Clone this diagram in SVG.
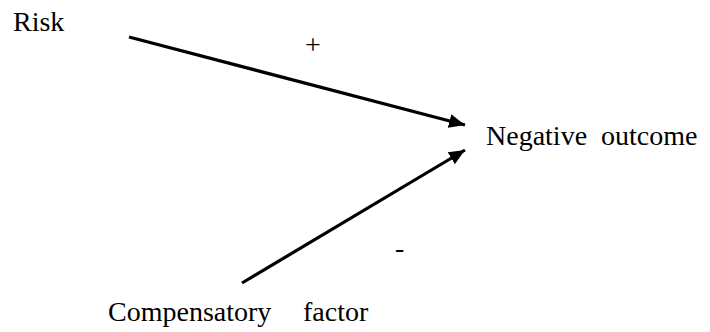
<svg xmlns="http://www.w3.org/2000/svg" width="710" height="332" viewBox="0 0 710 332">
<style>
text{font-family:"Liberation Serif","Times New Roman",serif;font-size:28px;fill:#000}
.c{stroke:#000;stroke-width:3.2;fill:none}
</style>
<defs>
<marker id="ah" markerUnits="userSpaceOnUse" markerWidth="18" markerHeight="14" refX="16" refY="7" orient="auto"><path d="M0,0 L16,7 L0,14 Z" fill="#000"/></marker>
</defs>
<rect width="710" height="332" fill="#fff"/>
<g id="risk"><text x="13" y="31">Risk</text></g>
<g id="outcome"><text x="486" y="145" font-size="29" word-spacing="7">Negative outcome</text></g>
<g id="comp"><text x="108" y="321" font-size="29">Compensatory</text><text x="303" y="321" font-size="29">factor</text></g>
<g id="connectors">
<line class="c" x1="129" y1="37" x2="465" y2="125" marker-end="url(#ah)"/>
<line class="c" x1="242" y1="283" x2="465" y2="150" marker-end="url(#ah)"/>
<text x="305" y="54">+</text>
<text x="395" y="257" font-size="32">-</text>
</g>
</svg>
